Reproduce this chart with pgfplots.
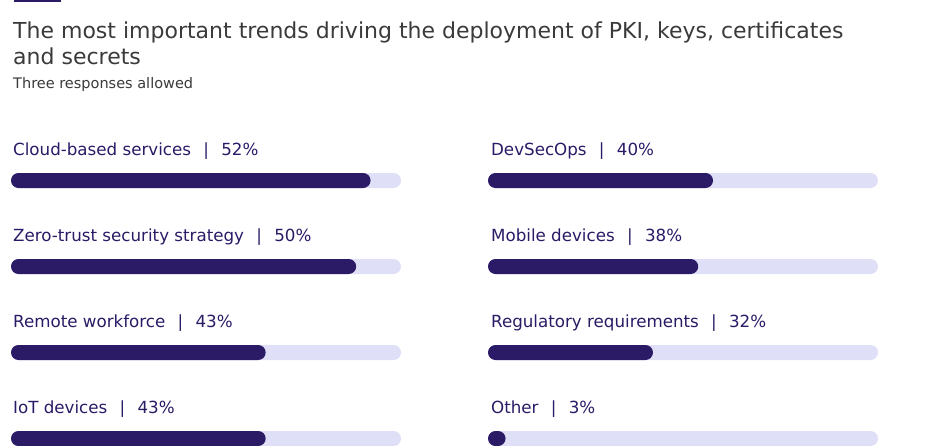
\documentclass[border=0pt]{standalone}
\usepackage{pgfplots}
\pgfplotsset{compat=1.18}
\usepackage{pgfplotstable}
\usepackage{fontspec}
\setmainfont{DejaVu Sans}
\definecolor{barfill}{HTML}{2B1A66}
\definecolor{track}{HTML}{DFDFF8}
\definecolor{titlegray}{HTML}{3A3A3A}
\definecolor{labelcol}{HTML}{2B1A66}

\pgfplotstableread{
pos track value
0 100 92.2
1 100 88.5
2 100 65.3
3 100 65.3
}\leftdata
\pgfplotstableread{
pos track value
0 100 57.7
1 100 53.9
2 100 42.3
3 100 4.5
}\rightdata

\pgfplotsset{
  pillaxis/.style={
    x=3.9pt, y=86pt, y dir=reverse,
    xmin=0, xmax=100, ymin=-0.5, ymax=3.5,
    hide axis, clip=false, anchor=origin,
  },
  pill/.style={xbar, bar width=15pt, bar shift=0pt, draw=none, rounded corners=7.5pt},
}
\tikzset{lab/.style={anchor=base west, inner sep=0pt, text=labelcol, font=\fontsize{16.7}{20}\selectfont, yshift=24.7pt}}
\newcommand{\sep}{\hspace{12.3pt}|\hspace{12.3pt}}

\begin{document}
\begin{tikzpicture}
\path[use as bounding box] (0pt,0pt) rectangle (941pt,-446pt);
\fill[barfill] (14pt,0pt) rectangle (61pt,-2pt);
\node[anchor=base west, inner sep=0pt, text=titlegray, font=\fontsize{22}{25}\selectfont] at (13pt,-39pt) {The most important trends driving the deployment of PKI, keys, certificates};
\node[anchor=base west, inner sep=0pt, text=titlegray, font=\fontsize{22}{25}\selectfont] at (13pt,-64.3pt) {and secrets};
\node[anchor=base west, inner sep=0pt, text=titlegray, font=\fontsize{14.5}{17}\selectfont] at (13pt,-88.3pt) {Three responses allowed};

\begin{axis}[pillaxis, at={(11pt,-180.5pt)}]
\addplot[pill, fill=track] table[x=track,y=pos]{\leftdata};
\addplot[pill, fill=barfill] table[x=value,y=pos]{\leftdata};
\node[lab] at (axis cs:0.5,0) {Cloud-based services\sep52\%};
\node[lab] at (axis cs:0.5,1) {Zero-trust security strategy\sep50\%};
\node[lab] at (axis cs:0.5,2) {Remote workforce\sep43\%};
\node[lab] at (axis cs:0.5,3) {IoT devices\sep43\%};
\end{axis}

\begin{axis}[pillaxis, at={(488pt,-180.5pt)}]
\addplot[pill, fill=track] table[x=track,y=pos]{\rightdata};
\addplot[pill, fill=barfill] table[x=value,y=pos]{\rightdata};
\node[lab] at (axis cs:0.75,0) {DevSecOps\sep40\%};
\node[lab] at (axis cs:0.75,1) {Mobile devices\sep38\%};
\node[lab] at (axis cs:0.75,2) {Regulatory requirements\sep32\%};
\node[lab] at (axis cs:0.75,3) {Other\sep3\%};
\end{axis}
\end{tikzpicture}
\end{document}
